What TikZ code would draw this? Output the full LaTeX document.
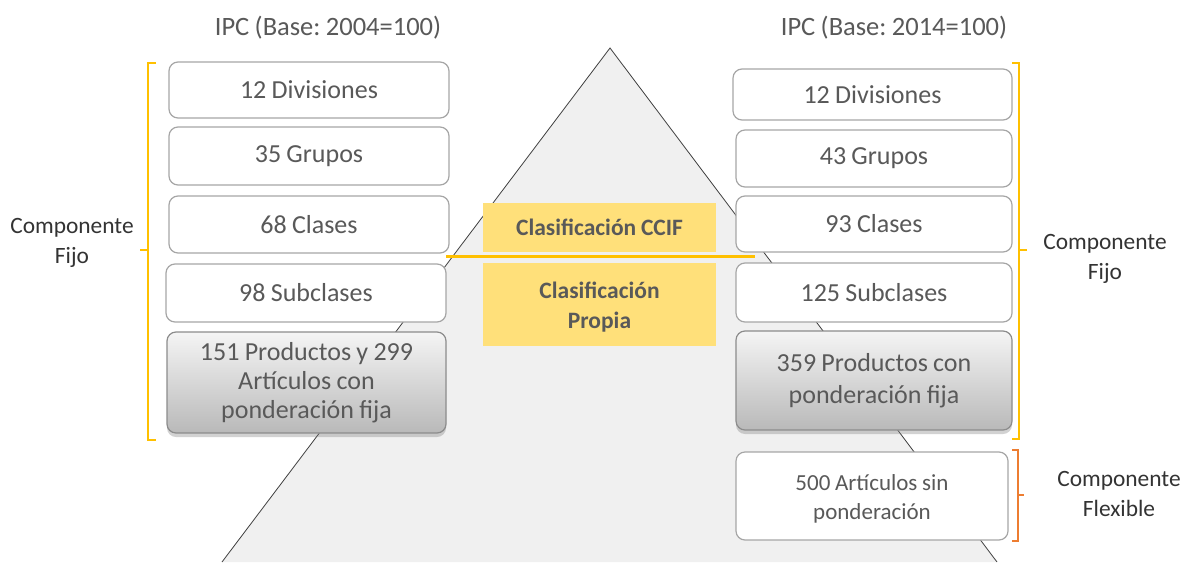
\documentclass[tikz,border=0pt]{standalone}
\usepackage{fontspec}
\setmainfont[WordSpace=0.9]{Carlito}
\frenchspacing
\usetikzlibrary{shadows}
\definecolor{txt}{HTML}{595959}
\definecolor{bord}{HTML}{A6A6A6}
\definecolor{ybr}{HTML}{FFC000}
\definecolor{obr}{HTML}{ED7D31}
\definecolor{yfill}{HTML}{FFE07A}
\definecolor{tri}{HTML}{F0F0F0}
\tikzset{
  box/.style={draw=bord, line width=1.2pt, fill=white, rounded corners=9pt, text=txt,
    align=center, font=\fontsize{26}{29}\selectfont, inner sep=0pt},
  gbox/.style={box, draw=gray!90, top color=gray!8, bottom color=gray!55,
    drop shadow={shadow xshift=0pt, shadow yshift=-4pt, opacity=0.35}},
  ybox/.style={fill=yfill, text=txt, align=center, inner sep=0pt,
    font=\fontsize{23.5}{30}\selectfont\bfseries},
  btext/.style={text=txt, align=center, inner sep=0pt},
  lbl/.style={text=black!80, align=center, font=\fontsize{23.4}{30}\selectfont},
  hdr/.style={text=txt, font=\fontsize{26.5}{30}\selectfont},
  brk/.style={line width=1.5pt},
}
\begin{document}
\begin{tikzpicture}[x=1pt,y=-1pt]
\useasboundingbox (0,0) rectangle (1185,562);
\fill[white] (0,0) rectangle (1185,562);
% pyramid
\coordinate (apex) at (610,48);
\coordinate (bl) at (222,562);
\coordinate (br) at (997,562);
\filldraw[fill=tri, draw=black!75, line width=0.8pt] (bl) -- (apex) -- (br);
% headers
\node[hdr] (h1) at (328,28) {IPC (Base: 2004=100)};
\node[hdr] (h2) at (894,28) {IPC (Base: 2014=100)};
% left boxes
\node[box, minimum width=280pt, minimum height=56pt] (L1) at (309,90) {12 Divisiones};
\node[box, minimum width=280pt, minimum height=58pt] (L2) at (309,156) {35 Grupos};
\node[box, minimum width=280pt, minimum height=57pt] (L3) at (309,224.5) {68 Clases};
\node[box, minimum width=280pt, minimum height=58pt] (L4) at (306,293) {98 Subclases};
\node[gbox, minimum width=279pt, minimum height=101pt] (L5) at (306.5,382.5) {151 Productos y 299\\Artículos con\\ponderación fija};
% right boxes
\node[box, minimum width=279pt, minimum height=51pt] (R1) at (872.5,94.5) {12 Divisiones};
\node[box, minimum width=276pt, minimum height=57pt] (R2) at (874,158.5) {43 Grupos};
\node[box, minimum width=276pt, minimum height=56pt] (R3) at (874,224) {93 Clases};
\node[box, minimum width=276pt, minimum height=59pt] (R4) at (874,292.5) {125 Subclases};
\node[gbox, minimum width=276pt, minimum height=99pt, font=\fontsize{26}{32}\selectfont] (R5) at (874,380.5) {359 Productos con\\ponderación fija};
\node[box, minimum width=272pt, minimum height=88pt] (R6) at (872,496) {};
\node[btext, font=\fontsize{23}{29}\selectfont] (R6t) at ([yshift=-3pt]R6.center) {500 Artículos sin\\ponderación};
% yellow boxes
\node[ybox, minimum width=233pt, minimum height=49pt] (Y1) at (599.5,227.5) {Clasificación CCIF};
\node[ybox, minimum width=233pt, minimum height=83pt] (Y2) at (599.5,304.5) {};
\node[btext, font=\fontsize{23.5}{30}\selectfont\bfseries] (Y2t) at ([yshift=-3pt]Y2.center) {Clasificación\\Propia};
\coordinate (ylA) at (446,256);
\coordinate (ylB) at (755,256);
\draw[ybr, line width=3pt] (ylA) -- (ylB);
% brackets
\draw[ybr, brk] (156,63) -- (148,63) -- (148,440) -- (156,440);
\draw[ybr, brk] (148,250) -- (140,250);
\draw[ybr, brk] (1012,63) -- (1019,63) -- (1019,439) -- (1012,439);
\draw[ybr, brk] (1019,250) -- (1027,250);
\draw[obr, brk] (1012,450) -- (1018,450) -- (1018,541) -- (1012,541);
\draw[obr, brk] (1018,495) -- (1024,495);
% labels
\node[lbl] (cf1) at (72,243) {Componente\\Fijo};
\node[lbl] (cf2) at (1105,259) {Componente\\Fijo};
\node[lbl] (cfl) at (1119,494) {Componente\\Flexible};
\end{tikzpicture}
\end{document}
